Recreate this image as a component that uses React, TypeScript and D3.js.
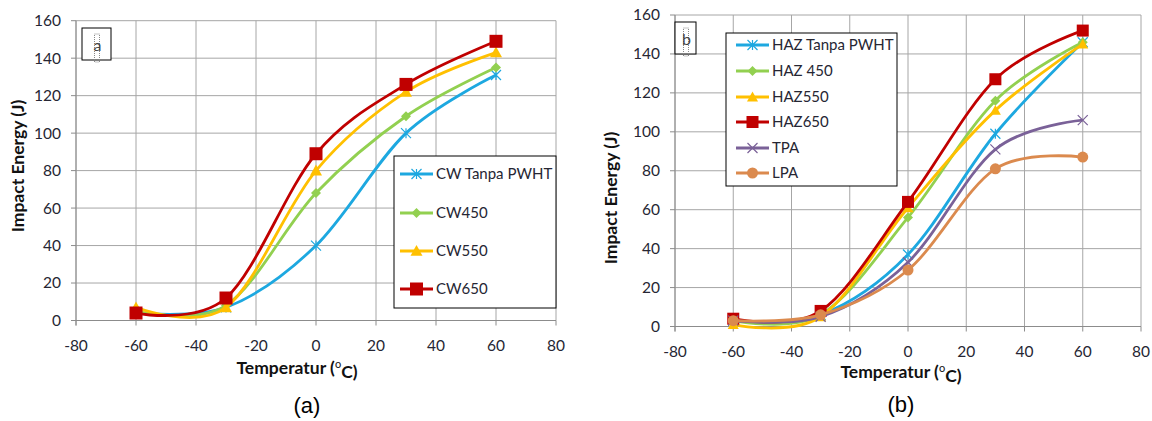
import React, { useRef, useEffect } from "react";
import * as d3 from "d3";

// temperatures (°C) where specimens were tested
const temps = [-60, -30, 0, 30, 60];
const xTicks = [-80, -60, -40, -20, 0, 20, 40, 60, 80];
const yTicks = [0, 20, 40, 60, 80, 100, 120, 140, 160];

// (a) weld metal
const cwNames = ["CW Tanpa PWHT", "CW450", "CW550", "CW650"];
const cwTanpa = [4, 7, 40, 100, 131];
const cw450 = [5, 8, 68, 109, 135];
const cw550 = [7, 7, 80, 122, 143];
const cw650 = [4, 12, 89, 126, 149];

// (b) heat affected zone
const hazNames = ["HAZ Tanpa PWHT", "HAZ 450", "HAZ550", "HAZ650", "TPA", "LPA"];
const hazTanpa = [3, 6, 37, 99, 146];
const haz450 = [3, 6, 56, 116, 146];
const haz550 = [1, 5, 61, 111, 145];
const haz650 = [4, 8, 64, 127, 152];
const tpa = [3, 5, 33, 91, 106];
const lpa = [3, 6, 29, 81, 87];

type Marker = "star" | "diamond" | "triangle" | "square" | "x" | "circle";

interface Series {
  name: string;
  values: number[];
  color: string;
  marker: Marker;
  size: number;
}

interface PanelLayout {
  left: number;
  right: number;
  top: number;
  bottom: number;
  series: Series[];
  legend: { x0: number; x1: number; y0: number; y1: number; rows: number[]; lineX: number };
  tag: { x: number; y: number; w: number; h: number; letter: string };
  yTitle: { x: number; y: number };
  xTitle: { x: number; y: number };
  caption: { x: number; y: number; text: string };
}

const BLUE = "#1DA8E0";
const GREEN = "#92D050";
const YELLOW = "#FFC000";
const RED = "#C00000";
const PURPLE = "#7A6198";
const ORANGE = "#DB8A4E";
const FONT = "Lato, 'Liberation Sans', sans-serif";

const panelA: PanelLayout = {
  left: 76,
  right: 556,
  top: 20.7,
  bottom: 320.5,
  series: [
    { name: cwNames[0], values: cwTanpa, color: BLUE, marker: "star", size: 10 },
    { name: cwNames[1], values: cw450, color: GREEN, marker: "diamond", size: 10 },
    { name: cwNames[2], values: cw550, color: YELLOW, marker: "triangle", size: 12 },
    { name: cwNames[3], values: cw650, color: RED, marker: "square", size: 13 },
  ],
  legend: { x0: 394, x1: 556, y0: 156, y1: 308, rows: [174, 213, 251, 289], lineX: 400 },
  tag: { x: 82, y: 28, w: 29, h: 32, letter: "a" },
  yTitle: { x: 18, y: 166 },
  xTitle: { x: 297, y: 368 },
  caption: { x: 307, y: 405, text: "(a)" },
};

const panelB: PanelLayout = {
  left: 675,
  right: 1141,
  top: 15,
  bottom: 326.5,
  series: [
    { name: hazNames[0], values: hazTanpa, color: BLUE, marker: "star", size: 10 },
    { name: hazNames[1], values: haz450, color: GREEN, marker: "diamond", size: 10 },
    { name: hazNames[2], values: haz550, color: YELLOW, marker: "triangle", size: 11 },
    { name: hazNames[3], values: haz650, color: RED, marker: "square", size: 12 },
    { name: hazNames[4], values: tpa, color: PURPLE, marker: "x", size: 10 },
    { name: hazNames[5], values: lpa, color: ORANGE, marker: "circle", size: 11 },
  ],
  legend: { x0: 726, x1: 897, y0: 33, y1: 186, rows: [45, 71, 97, 122, 148, 173], lineX: 736 },
  tag: { x: 675, y: 22, w: 21, h: 32, letter: "b" },
  yTitle: { x: 611, y: 198 },
  xTitle: { x: 901, y: 372 },
  caption: { x: 901, y: 404, text: "(b)" },
};

function drawMarker(
  g: d3.Selection<SVGGElement, unknown, null, undefined>,
  cx: number,
  cy: number,
  s: Series
) {
  const h = s.size / 2;
  switch (s.marker) {
    case "square":
      g.append("rect")
        .attr("x", cx - h)
        .attr("y", cy - h)
        .attr("width", s.size)
        .attr("height", s.size)
        .attr("fill", s.color);
      break;
    case "circle":
      g.append("circle").attr("cx", cx).attr("cy", cy).attr("r", h).attr("fill", s.color);
      break;
    case "diamond":
      g.append("path")
        .attr("d", `M${cx},${cy - h}L${cx + h},${cy}L${cx},${cy + h}L${cx - h},${cy}Z`)
        .attr("fill", s.color);
      break;
    case "triangle":
      g.append("path")
        .attr("d", `M${cx},${cy - h}L${cx + h},${cy + h * 0.8}L${cx - h},${cy + h * 0.8}Z`)
        .attr("fill", s.color);
      break;
    case "star":
    case "x": {
      const d =
        `M${cx - h},${cy - h}L${cx + h},${cy + h}M${cx - h},${cy + h}L${cx + h},${cy - h}` +
        (s.marker === "star" ? `M${cx},${cy - h}L${cx},${cy + h}` : "");
      g.append("path").attr("d", d).attr("stroke", s.color).attr("stroke-width", 1.2).attr("fill", "none");
      break;
    }
  }
}

function drawPanel(svg: d3.Selection<SVGSVGElement, unknown, null, undefined>, p: PanelLayout) {
  const x = d3.scaleLinear().domain([-80, 80]).range([p.left, p.right]);
  const y = d3.scaleLinear().domain([0, 160]).range([p.bottom, p.top]);
  const g = svg.append("g");

  // grid
  g.selectAll(null)
    .data(yTicks)
    .join("line")
    .attr("x1", p.left)
    .attr("x2", p.right)
    .attr("y1", (d) => y(d))
    .attr("y2", (d) => y(d))
    .attr("stroke", "#A6A6A6")
    .attr("stroke-width", 1);
  g.selectAll(null)
    .data(xTicks)
    .join("line")
    .attr("x1", (d) => x(d))
    .attr("x2", (d) => x(d))
    .attr("y1", p.top)
    .attr("y2", p.bottom)
    .attr("stroke", "#A6A6A6")
    .attr("stroke-width", 1);

  // axes with outer ticks
  const axisCol = "#8C8C8C";
  g.append("line").attr("x1", p.left).attr("x2", p.left).attr("y1", p.top).attr("y2", p.bottom + 5).attr("stroke", axisCol);
  g.append("line").attr("x1", p.left - 5).attr("x2", p.right).attr("y1", p.bottom).attr("y2", p.bottom).attr("stroke", axisCol);
  g.selectAll(null)
    .data(yTicks)
    .join("line")
    .attr("x1", p.left - 5)
    .attr("x2", p.left)
    .attr("y1", (d) => y(d))
    .attr("y2", (d) => y(d))
    .attr("stroke", axisCol);
  g.selectAll(null)
    .data(xTicks)
    .join("line")
    .attr("x1", (d) => x(d))
    .attr("x2", (d) => x(d))
    .attr("y1", p.bottom)
    .attr("y2", p.bottom + 5)
    .attr("stroke", axisCol);

  g.selectAll(null)
    .data(yTicks)
    .join("text")
    .attr("x", p.left - 15)
    .attr("y", (d) => y(d))
    .attr("dy", "0.35em")
    .attr("text-anchor", "end")
    .attr("font-family", FONT)
    .attr("font-size", 15.5)
    .attr("fill", "#262633")
    .text((d) => d);
  g.selectAll(null)
    .data(xTicks)
    .join("text")
    .attr("x", (d) => x(d))
    .attr("y", p.bottom + 25)
    .attr("dy", "0.35em")
    .attr("text-anchor", "middle")
    .attr("font-family", FONT)
    .attr("font-size", 15.5)
    .attr("fill", "#262633")
    .text((d) => d);

  // titles
  g.append("text")
    .attr("transform", `translate(${p.yTitle.x},${p.yTitle.y}) rotate(-90)`)
    .attr("dy", "0.35em")
    .attr("text-anchor", "middle")
    .attr("font-family", FONT)
    .attr("font-weight", "bold")
    .attr("font-size", 17.5)
    .attr("fill", "#111")
    .text("Impact Energy (J)");
  const xt = g
    .append("text")
    .attr("x", p.xTitle.x)
    .attr("y", p.xTitle.y)
    .attr("dy", "0.35em")
    .attr("text-anchor", "middle")
    .attr("font-family", FONT)
    .attr("font-weight", "bold")
    .attr("font-size", 17.5)
    .attr("fill", "#111");
  xt.append("tspan").text("Temperatur (");
  xt.append("tspan").attr("font-size", 11).attr("font-weight", "normal").attr("dy", "-0.55em").text("o");
  xt.append("tspan").attr("dy", "0.55em").text("C)");

  g.append("text")
    .attr("x", p.caption.x)
    .attr("y", p.caption.y)
    .attr("dy", "0.35em")
    .attr("text-anchor", "middle")
    .attr("font-family", "'Liberation Sans', Arial, sans-serif")
    .attr("font-size", 22)
    .attr("fill", "#000")
    .text(p.caption.text);

  // small tag box
  const t = p.tag;
  g.append("rect").attr("x", t.x).attr("y", t.y).attr("width", t.w).attr("height", t.h).attr("fill", "#fff").attr("stroke", "#000");
  const tx = t.x + t.w / 2 + 1;
  g.append("rect")
    .attr("x", tx - 3)
    .attr("y", t.y + 6)
    .attr("width", 5)
    .attr("height", t.h - 4)
    .attr("fill", "none")
    .attr("stroke", "#888")
    .attr("stroke-dasharray", "1,1");
  g.append("text")
    .attr("x", tx)
    .attr("y", t.y + t.h / 2 + 7)
    .attr("text-anchor", "middle")
    .attr("font-family", FONT)
    .attr("font-size", 16)
    .attr("fill", "#444")
    .text(t.letter);

  // series
  const line = d3
    .line<number>()
    .x((_, i) => x(temps[i]))
    .y((d) => y(d))
    .curve(d3.curveCardinal.tension(0));
  p.series.forEach((s) => {
    g.append("path")
      .datum(s.values)
      .attr("d", line)
      .attr("fill", "none")
      .attr("stroke", s.color)
      .attr("stroke-width", 2.8);
    const mg = g.append("g");
    s.values.forEach((v, i) => drawMarker(mg, x(temps[i]), y(v), s));
  });

  // legend
  const L = p.legend;
  g.append("rect")
    .attr("x", L.x0)
    .attr("y", L.y0)
    .attr("width", L.x1 - L.x0)
    .attr("height", L.y1 - L.y0)
    .attr("fill", "#fff")
    .attr("stroke", "#000");
  p.series.forEach((s, i) => {
    const ry = L.rows[i];
    const lg = g.append("g");
    lg.append("line")
      .attr("x1", L.lineX)
      .attr("x2", L.lineX + 33)
      .attr("y1", ry)
      .attr("y2", ry)
      .attr("stroke", s.color)
      .attr("stroke-width", 2.8);
    drawMarker(lg, L.lineX + 16.5, ry, s);
    lg.append("text")
      .attr("x", L.lineX + 36)
      .attr("y", ry)
      .attr("dy", "0.35em")
      .attr("font-family", FONT)
      .attr("font-size", 15)
      .attr("fill", "#262633")
      .text(s.name);
  });
}

const App: React.FC = () => {
  const svgRef = useRef<SVGSVGElement>(null);

  useEffect(() => {
    if (!svgRef.current) return;
    const svg = d3.select(svgRef.current);
    svg.selectAll("*").remove();
    drawPanel(svg, panelA);
    drawPanel(svg, panelB);
  }, []);

  return (
    <svg
      ref={svgRef}
      width={1152}
      height={421}
      style={{ position: "absolute", left: 0, top: 0, background: "#fff" }}
    />
  );
};

export default App;
